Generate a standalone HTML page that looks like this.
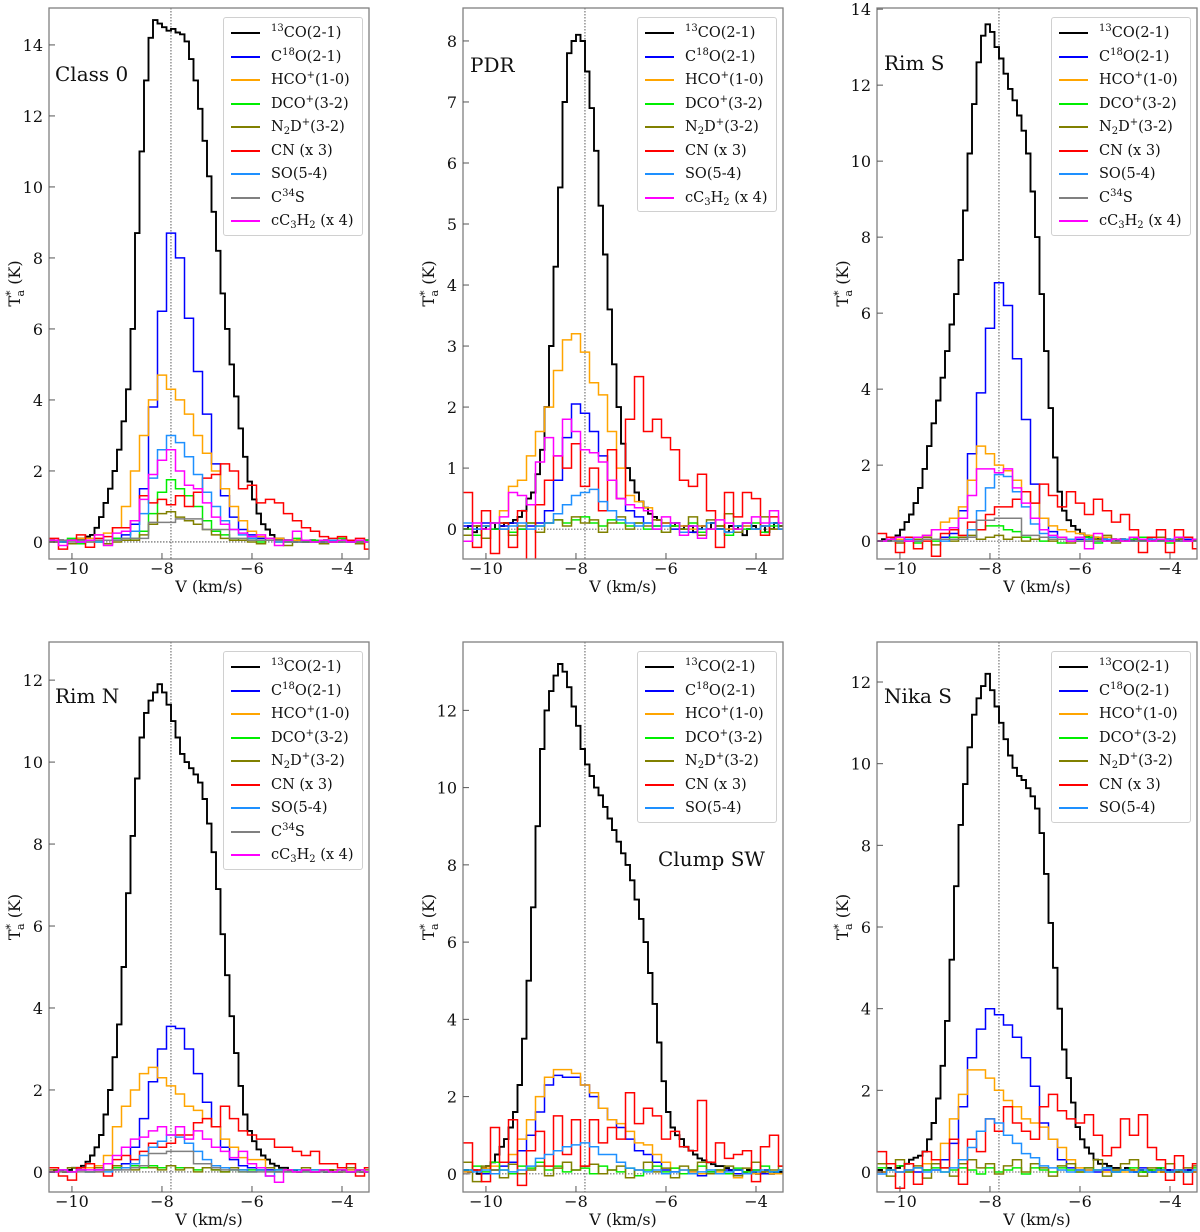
<!DOCTYPE html>
<html><head><meta charset="utf-8">
<style>
html,body{margin:0;padding:0;background:#fff;}
#wrap{position:relative;width:1200px;height:1232px;overflow:hidden;font-family:"DejaVu Serif","Liberation Serif",serif;}
svg{position:absolute;left:0;top:0;}
.legend{position:absolute;background:#fff;border:1px solid #d0d0d0;border-radius:3px;box-sizing:border-box;}
.lent{position:absolute;left:0;height:20px;width:100%;}
.lline{position:absolute;left:7px;width:29px;top:9px;height:0;border-top-width:2px;border-top-style:solid;}
.ltxt{position:absolute;left:47px;top:0;font-size:14.5px;line-height:20px;white-space:nowrap;color:#111;}
.ltxt sup{font-size:10px;position:relative;top:-6px;vertical-align:baseline;}
.ltxt sub{font-size:10px;position:relative;top:3px;vertical-align:baseline;}
</style></head>
<body>
<div id="wrap">
<svg id="fig" width="1200" height="1232"></svg>
</div>
<script>
// ---------- data: velocity grids ----------
const V0 = -10.5;
const DV_FINE = 0.1;
const DV_COARSE = 0.2;
const xTicks = [-10, -8, -6, -4];
const xTickLabels = ["\u221210", "\u22128", "\u22126", "\u22124"];
const vSys = -7.8;

// ---------- Class 0 ----------
const c0_co13 = [0.05,0,0.05,0,0.05,0.05,0.1,0.1,0.15,0.2,0.4,0.7,1.1,1.5,2.0,2.6,3.4,4.3,6.0,8.7,11.0,13.0,14.2,14.7,14.6,14.5,14.4,14.45,14.35,14.3,14.1,13.6,13.0,12.2,11.3,10.3,9.3,8.2,7.0,6.0,5.0,4.1,3.2,2.4,1.7,1.2,0.8,0.5,0.35,0.2,0.1,0.1,0.05,0.05,0,0.05,0,0,0.05,0,0,0.05,0,0,0,0.05,0,0,0,0,0.05];
const c0_c18o = [0,0,0.05,0,0.05,0.05,0.05,0.1,0.2,0.5,1.5,3.8,6.5,8.7,8.0,6.3,4.8,3.6,2.2,1.3,0.7,0.35,0.2,0.1,0.05,0.05,0,0.05,0,0.05,0,0,0.05,0,0,0.05];
const c0_hco = [0,0.05,0.05,0.1,0.1,0.2,0.25,0.4,1.0,2.0,3.0,4.0,4.7,4.3,4.0,3.6,3.0,2.5,2.0,1.5,1.0,0.6,0.3,0.15,0.1,0.1,0.05,0.05,0.05,0,0.05,0,0,0.05,0,0];
const c0_dco = [0.05,0,0.1,-0.05,0.05,0,0.05,0.1,0.05,0.1,0.3,0.8,1.4,1.75,1.5,1.3,1.0,0.6,0.3,0.2,0.1,0.05,0.1,0,0.05,0.05,0,0.1,0,0.05,-0.05,0.05,0.1,0.05,0,0.05];
const c0_n2d = [0.05,0,-0.05,0.05,0,0.05,-0.05,0,0.05,0.05,0.2,0.5,0.8,0.85,0.7,0.6,0.5,0.35,0.2,0.1,0.05,0.05,0,-0.05,0.05,0,-0.1,0,0.05,0,-0.05,0.05,0,0.05,-0.05,0];
const c0_cn = [0.1,-0.2,0.05,0.2,-0.15,0.1,0.15,0.4,0.4,0.6,1.3,1.1,1.2,1.05,1.3,1.0,1.4,1.8,1.9,2.2,2.0,1.5,1.6,1.1,1.2,1.1,0.8,0.6,0.4,0.3,0.15,0.1,0.15,0.05,0.1,-0.2];
const c0_so = [0.05,0,0.05,0,0.05,0,0.05,0.05,0.1,0.3,0.8,1.8,2.6,3.0,2.8,2.4,1.9,1.4,1.0,0.6,0.35,0.2,0.1,0.05,0.05,0,0.05,0,0.05,0,0,0.05,0,0,0.05,0];
const c0_c34s = [0,0.05,0,0.05,0,0.05,0.05,0.05,0.1,0.1,0.1,0.55,0.55,0.55,0.65,0.65,0.65,0.35,0.35,0.35,0.1,0.1,0.05,0.05,0.05,0.05,0,0,0,0,0,0,0,0,0,0];
const c0_cc3h2 = [0.05,-0.1,0.05,0,0.05,0.2,-0.1,0.25,0.3,0.6,1.2,1.9,2.3,2.6,2.0,1.6,1.5,1.1,0.7,0.5,0.35,0.25,0.15,0.2,0.1,-0.1,0.05,0.3,0.05,0,0.05,0,0.05,0,0.05,0];

// ---------- PDR ----------
const pdr_co13 = [0,0.05,-0.05,0.05,0,0.05,0.1,0,0.05,0.1,0.1,0.15,0.2,0.3,0.5,0.6,0.9,1.3,2.0,3.0,4.3,5.6,7.0,7.8,8.0,8.1,8.0,7.5,6.9,6.2,5.3,4.5,3.6,2.7,2.0,1.4,1.0,0.8,0.6,0.45,0.35,0.25,0.2,0.15,0.1,0.1,0.05,0.1,0,0.05,0.05,-0.05,0,0.05,0,0.1,0,0,-0.05,0.05,0,0.05,-0.1,0,0.05,0,0.05,-0.05,0,0.1,0.05];
const pdr_c18o = [0.05,0,0.1,0,0.05,0.1,0,0.05,0.1,0.3,0.8,1.5,2.05,1.9,1.6,1.2,0.8,0.5,0.3,0.2,0.1,0.05,0.1,0,0.05,-0.05,0.05,0,0.05,0,-0.05,0.05,0,0.05,0,0.05];
const pdr_hco = [0,0.05,0.05,0.1,0.3,0.7,0.8,1.2,1.6,2.0,2.6,3.1,3.2,2.9,2.4,2.2,1.6,1.0,0.55,0.45,0.35,0.15,0.1,0.05,0.05,0,0.05,0,0.05,0,0,0.05,0,0.05,0,0];
const pdr_dco = [0,-0.1,0.05,0,0.1,-0.05,0,0.1,0.05,0.1,0.15,0.1,0.15,0.2,0.1,0.05,0.15,0.1,0.05,0.1,0,0.05,-0.05,0.05,0,0.1,-0.05,0,0.05,-0.1,0.05,0,0.1,-0.05,0.05,0];
const pdr_n2d = [-0.1,0.05,-0.15,0.1,0,-0.1,0.05,0.1,-0.05,0.1,0.15,0.05,0.2,0.1,0.15,-0.05,0.1,0.2,0,0.1,0.05,0.15,-0.05,0.1,0,0.2,-0.1,0.15,0.05,0.25,-0.05,0.1,0,0.2,0,0.05];
const pdr_cn = [0.6,-0.3,0.3,-0.4,0.1,-0.3,0.3,-0.5,0.4,0.8,1.2,1.0,1.4,0.7,1.0,0.3,1.3,0.5,1.8,2.5,1.6,1.8,1.5,1.3,0.8,0.7,0.9,0.3,-0.3,0.6,0.2,0.6,0.5,-0.1,0.2,0.0];
const pdr_so = [0.1,0,0.05,0.1,0,0.05,0.1,0,0.05,0.1,0.25,0.4,0.55,0.6,0.65,0.45,0.3,0.15,0.1,0.05,0.1,0,0.05,0.1,-0.05,0.05,0,0.1,0,-0.05,0.05,0.1,0,0.05,0.1,0];
const pdr_cc3h2 = [-0.2,0.1,0.0,0.1,0.2,0.6,0.55,0.4,1.1,1.5,1.2,1.8,1.6,1.3,1.25,1.1,0.8,0.5,0.4,0.35,0.3,0.0,0.2,0.1,-0.1,0.05,-0.15,0.0,0.15,0.1,0.0,0.1,0.2,0.1,0.3,0.1];

// ---------- Rim S ----------
const rs_co13 = [0,0.05,0,0.05,0.15,0.3,0.5,0.7,1.0,1.4,1.9,2.5,3.1,3.7,4.3,5.0,5.7,6.5,7.4,8.7,10.2,11.5,12.6,13.3,13.6,13.4,13.0,12.7,12.3,11.9,11.6,11.2,10.8,10.2,9.2,8.0,6.5,5.0,3.5,2.2,1.3,0.8,0.55,0.4,0.3,0.2,0.15,0.1,0.1,0.05,0.05,0,0.05,0,0.05,0,0,0.05,0,0,0.05,0,0,0,0.05,0,0,0.05,0,0,0];
const rs_c18o = [0,0.05,0,0.05,0,0.05,0.05,0.1,0.2,0.8,2.3,3.9,5.6,6.8,6.2,4.8,3.2,1.5,0.6,0.25,0.1,0.05,0.05,0,0.05,0,0.05,0,0,0.05,0,0.05,0,0,0.05,0];
const rs_hco = [0,0.05,0.05,0.1,0.1,0.15,0.3,0.5,0.6,0.9,1.6,2.5,2.3,2.0,1.85,1.6,1.3,1.0,0.6,0.4,0.3,0.25,0.2,0.15,0.1,0.1,0.05,0.05,0.1,0.05,0,0.05,0,0.05,0,0.05];
const rs_dco = [0,0.05,0,0.1,-0.05,0.05,0,0.05,0.1,0.05,0.1,0.3,0.4,0.4,0.3,0.25,0.1,0.05,0,0.05,-0.05,0.05,0,0.1,-0.05,0,0.05,0,0.05,0.1,0,0.05,-0.05,0.05,0,0.05];
const rs_n2d = [0,0.05,-0.05,0,0.05,0.1,-0.1,0.05,0,0.1,0.15,0.05,0.1,0.15,0.05,0.1,0,0.05,0.1,0,0.05,-0.05,0.1,0,0.05,0.15,-0.05,0,0.1,0.05,0,0.1,0,0.05,0.1,0];
const rs_cn = [0.2,0.1,-0.3,0.1,-0.2,0.0,-0.4,0.2,0.3,0.15,0.5,0.3,0.7,0.9,0.9,1.1,1.3,1.0,1.5,1.2,0.9,1.3,1.0,0.7,1.1,0.8,0.5,0.7,0.3,-0.3,0.1,0.3,-0.3,0.3,0.1,-0.2];
const rs_so = [0,0.05,0,0.05,0,0.05,0.05,0,0.05,0.05,0.3,0.8,1.4,1.75,1.7,1.3,0.9,0.45,0.2,0.1,0.05,0.05,0,0.05,0,0.05,0,0.05,0,0,0.05,0,0.05,0,0,0.05];
const rs_c34s = [0,0,0,0,0,0.05,0.05,0.05,0.05,0.05,0.1,0.55,0.55,0.6,0.6,0.6,0.15,0.15,0.1,0.05,0.05,0,0,0,0,0,0,0,0,0,0,0,0,0,0,0];
const rs_cc3h2 = [0,0.05,0.1,0,0.1,0.15,0.3,0.3,0.35,0.6,1.2,1.9,1.9,1.8,1.9,1.4,1.0,0.6,0.3,0.15,0.1,0,0.1,-0.2,0.2,0,0.05,0,0.1,0.05,0,0.05,0,0.1,0,0.05];

// ---------- Rim N ----------
const rn_co13 = [0,0.05,0.05,0,0.05,0.1,0.1,0.15,0.25,0.4,0.6,0.9,1.4,2.0,2.8,3.6,5.0,6.8,8.2,9.6,10.6,11.2,11.5,11.7,11.9,11.7,11.4,11.0,10.6,10.2,10.0,9.85,9.7,9.5,9.1,8.5,7.8,6.9,5.8,4.8,3.8,2.9,2.1,1.4,1.0,0.75,0.55,0.4,0.3,0.2,0.15,0.1,0.1,0.05,0.05,0,0.05,0.05,0,0,0.05,0,0.05,0,0,0.05,0,0,0.05,0,0];
const rn_c18o = [0,0.05,0,0.05,0,0.05,0.05,0.1,0.2,0.6,1.3,2.2,3.0,3.55,3.5,3.0,2.4,1.7,1.1,0.6,0.3,0.15,0.1,0.05,0.05,0,0.05,0,0.05,0,0.05,0,0,0.05,0,0];
const rn_hco = [0,0.05,0,0.05,0.1,0.15,0.4,1.1,1.6,2.0,2.4,2.55,2.3,2.1,1.9,1.6,1.5,1.3,1.1,0.8,0.6,0.35,0.3,0.3,0.1,0.05,0.05,0,0.05,0,0.05,0,0,0.05,0,0];
const rn_dco = [0,0.05,0,0.05,0,0.1,0.05,0.1,0.1,0.15,0.1,0.15,0.1,0.15,0.1,0.1,0.05,0.1,0.05,0,0.05,0,0.05,0.05,0,0.05,0,0.05,0,0.05,0.05,0,0.05,0,0.05,0];
const rn_n2d = [0.05,0,0.1,0.05,0,0.1,0.05,0.15,0.1,0.05,0.15,0.1,0.05,0.15,0.05,0.1,0,0.1,0.05,0,0.1,0.05,0,0.05,0.1,0,0.05,0,0.1,0,0.05,0.05,0,0.1,0,0.05];
const rn_cn = [0.1,-0.1,-0.2,0.1,0.2,0.0,-0.1,0.3,0.4,0.3,0.5,0.7,0.6,0.7,0.9,0.9,1.2,1.3,1.1,1.6,1.3,1.0,0.9,0.8,0.8,0.6,0.6,0.5,0.4,0.5,0.2,0.2,0.1,0.2,-0.1,0.1];
const rn_so = [0,0.05,0,0.05,0,0.05,0,0.05,0.1,0.2,0.4,0.6,0.75,0.9,0.85,0.7,0.5,0.3,0.15,0.1,0.05,0.05,0,0.05,-0.1,0.05,0,0.05,0,0.05,0,0,0.05,0,0.05,0];
const rn_c34s = [0,0,0,0,0,0,0.05,0.05,0.05,0.1,0.15,0.45,0.45,0.5,0.5,0.5,0.2,0.2,0.1,0.05,0.05,0,0,0,0,0,0,0,0,0,0,0,0,0,0,0];
const rn_cc3h2 = [0,0.05,0,0.05,0.05,0.05,0.2,0.4,0.6,0.8,0.85,1.0,1.1,0.9,1.1,0.8,1.0,0.8,0.6,0.5,0.35,0.5,0.2,0.1,-0.1,-0.25,0.05,0,0.05,0,0.05,0,0.05,0,0.05,0];

// ---------- Clump SW ----------
const cs_co13 = [0.1,0.05,0.1,0,0.15,0.2,0.3,0.5,0.7,0.9,1.2,1.6,2.3,3.5,5.0,6.9,9.0,11.0,12.0,12.5,12.9,13.2,13.0,12.6,12.1,11.6,11.0,10.6,10.3,10.0,9.8,9.5,9.2,8.9,8.6,8.3,8.0,7.6,7.1,6.6,6.0,5.2,4.4,3.4,2.4,1.6,1.2,1.0,0.9,0.7,0.6,0.5,0.4,0.35,0.3,0.25,0.2,0.2,0.15,0.1,0.1,0.1,0.05,0.1,0.05,0,0.05,0.1,0,0.05,0.05];
const cs_c18o = [0.05,0.1,0.0,0.1,0.2,0.3,0.6,1.0,1.6,2.3,2.55,2.5,2.5,2.3,2.0,1.7,1.4,1.2,0.9,0.6,0.5,0.3,0.1,0.05,0,0.05,-0.05,0.05,0,0.1,0,0.05,0.1,0,0.05,0];
const cs_hco = [0.05,0.1,0.15,0.2,0.3,0.5,0.9,1.4,2.0,2.5,2.7,2.7,2.6,2.3,2.1,1.7,1.4,1.3,1.1,0.8,0.75,0.5,0.3,0.15,0.1,0.05,0,0,0.05,0,-0.1,0.05,0,0.05,0,0];
const cs_dco = [0.1,0.2,0.05,0.3,0.1,0,0.2,0.15,0.3,0.1,0.2,0.05,0.1,0.15,0,0.2,0.1,0.05,0.15,-0.05,0.1,0.2,0.05,0.15,0,0.1,0.2,0.05,0.1,0,0.15,0.05,0.1,0.2,0.05,0.1];
const cs_n2d = [0.3,-0.2,0.2,0.1,-0.1,0.25,0,0.1,0.2,-0.05,0.15,0.3,0.1,0.2,0.25,0,0.1,0.2,-0.1,0.1,0.3,0.05,0.15,-0.1,0.2,0.1,0.3,0,0.1,0.2,-0.05,0.15,0.3,0.05,0.1,0.2];
const cs_cn = [0.8,0.1,-0.2,1.2,0.3,1.4,-0.3,0.6,1.1,0.2,1.5,0.5,1.4,0.2,1.4,0.8,1.2,0.9,2.1,1.3,1.7,1.5,0.9,1.1,0.7,0.6,1.9,0.3,0.8,0.4,0.5,0.6,-0.2,0.7,1.0,0.2];
const cs_so = [0.1,0.05,0.1,0,0.1,0.05,0.1,0.2,0.4,0.5,0.6,0.7,0.75,0.8,0.7,0.5,0.5,0.3,0.15,0.1,0.05,0.1,0,0.05,0.1,0,0.05,0.1,0,0.05,0.1,0,0.05,0.1,0.05,0.1];

// ---------- Nika S ----------
const ns_co13 = [0.05,0,0.1,0.05,0.1,0.15,0.2,0.3,0.35,0.4,0.5,0.8,1.2,1.8,2.6,3.7,5.2,7.0,8.5,9.5,10.4,11.2,11.6,11.9,12.2,11.8,11.4,11.0,10.6,10.2,9.9,9.7,9.6,9.4,9.2,8.9,8.3,7.3,6.1,5.0,4.0,3.0,2.3,1.7,1.1,0.8,0.6,0.45,0.3,0.2,0.2,0.15,0.1,0.1,0.05,0.1,0.05,0,0.05,0,0.05,0,0.1,0,0.05,0,0,0.05,0,0.05,0];
const ns_c18o = [0,0.05,0,0.05,0,0.05,0.05,0.3,0.7,1.6,2.8,3.5,4.0,3.85,3.6,3.3,2.8,2.1,1.2,0.8,0.3,0.1,0.05,0.05,0,0.05,0,0.05,0,0.1,0,0.05,0.05,0,0.05,0];
const ns_hco = [0,0.05,0,0.05,0.1,0.2,0.3,0.7,1.3,1.9,2.5,2.5,2.3,2.0,1.75,1.6,1.3,1.2,1.1,0.8,0.6,0.3,0.1,0.05,0.05,0,0.05,0,0.05,0,0.05,0,0,0.05,0,0];
const ns_dco = [0.1,0.05,0.15,0,0.1,0.05,0.1,0,0.05,0.1,0.05,-0.05,0.1,0,0.05,0.1,-0.05,0.1,0.05,0,0.1,0.05,0,0.1,0.05,0.1,0,0.05,0.1,0,0.05,0.1,0,0.05,0,0.1];
const ns_n2d = [0.2,-0.1,0.3,0,0.15,-0.15,0.2,0.1,-0.1,0.2,0.3,0.1,0.2,-0.05,0.15,0.3,0,0.2,0.1,-0.1,0.15,0.2,0,0.1,0.3,-0.1,0.05,0.2,0.3,-0.1,0.1,0.05,0.2,0,0.1,0.15];
const ns_cn = [0.5,0.2,-0.4,0.2,-0.3,0.5,0.3,0.1,0.8,-0.3,0.8,0.5,1.3,1.0,1.6,1.2,1.0,0.8,1.6,1.9,1.5,1.3,1.2,1.4,0.9,0.4,0.6,1.3,0.9,1.4,0.6,0.3,-0.2,0.4,-0.3,0.2];
const ns_so = [-0.05,0.05,0,0.05,0.1,0,0.05,0,0.1,0.3,0.6,1.0,1.3,1.2,0.9,0.7,0.45,0.35,0.15,0.1,0.05,0,0.05,0,0.05,0.1,0,0.05,0,0.05,0,0.05,0,0.05,0,0.05];

// ---------- styling / layout ----------
const COL = {co13:'#000000', c18o:'#0000ff', hco:'#ffa500', dco:'#00ee00', n2d:'#808000', cn:'#ff0000', so:'#1e90ff', c34s:'#808080', cc3h2:'#ff00ff'};
const LAB = {co13:'<sup>13</sup>CO(2-1)', c18o:'C<sup>18</sup>O(2-1)', hco:'HCO<sup>+</sup>(1-0)', dco:'DCO<sup>+</sup>(3-2)', n2d:'N<sub>2</sub>D<sup>+</sup>(3-2)', cn:'CN (x 3)', so:'SO(5-4)', c34s:'C<sup>34</sup>S', cc3h2:'cC<sub>3</sub>H<sub>2</sub> (x 4)'};
const XMIN = -10.51, XMAX = -3.4;
const PW = 320;

const panels = [
 {id:'class-0', title:'Class 0', left:49, top:8, bottom:559, ymin:-0.48, ymax:15.04, yticks:[0,2,4,6,8,10,12,14], tx:55, ty:81,
  s:{co13:c0_co13,c18o:c0_c18o,hco:c0_hco,dco:c0_dco,n2d:c0_n2d,cn:c0_cn,so:c0_so,c34s:c0_c34s,cc3h2:c0_cc3h2}},
 {id:'pdr', title:'PDR', left:463, top:8, bottom:559, ymin:-0.49, ymax:8.54, yticks:[0,1,2,3,4,5,6,7,8], tx:470, ty:72,
  s:{co13:pdr_co13,c18o:pdr_c18o,hco:pdr_hco,dco:pdr_dco,n2d:pdr_n2d,cn:pdr_cn,so:pdr_so,cc3h2:pdr_cc3h2}},
 {id:'rim-s', title:'Rim S', left:877, top:8, bottom:559, ymin:-0.47, ymax:14.03, yticks:[0,2,4,6,8,10,12,14], tx:884, ty:70,
  s:{co13:rs_co13,c18o:rs_c18o,hco:rs_hco,dco:rs_dco,n2d:rs_n2d,cn:rs_cn,so:rs_so,c34s:rs_c34s,cc3h2:rs_cc3h2}},
 {id:'rim-n', title:'Rim N', left:49, top:642, bottom:1192, ymin:-0.49, ymax:12.93, yticks:[0,2,4,6,8,10,12], tx:55, ty:703,
  s:{co13:rn_co13,c18o:rn_c18o,hco:rn_hco,dco:rn_dco,n2d:rn_n2d,cn:rn_cn,so:rn_so,c34s:rn_c34s,cc3h2:rn_cc3h2}},
 {id:'clump-sw', title:'Clump SW', left:463, top:642, bottom:1192, ymin:-0.47, ymax:13.77, yticks:[0,2,4,6,8,10,12], tx:658, ty:866,
  s:{co13:cs_co13,c18o:cs_c18o,hco:cs_hco,dco:cs_dco,n2d:cs_n2d,cn:cs_cn,so:cs_so}},
 {id:'nika-s', title:'Nika S', left:877, top:642, bottom:1192, ymin:-0.49, ymax:12.98, yticks:[0,2,4,6,8,10,12], tx:884, ty:703,
  s:{co13:ns_co13,c18o:ns_c18o,hco:ns_hco,dco:ns_dco,n2d:ns_n2d,cn:ns_cn,so:ns_so}}
];

const NS = 'http://www.w3.org/2000/svg';
const svg = document.getElementById('fig');
const wrap = document.getElementById('wrap');
function mk(tag, attrs, parent){
  const e = document.createElementNS(NS, tag);
  for (const k in attrs) e.setAttribute(k, attrs[k]);
  parent.appendChild(e);
  return e;
}

panels.forEach(function(p, pi){
  const xs = function(v){ return p.left + (v - XMIN) / (XMAX - XMIN) * PW; };
  const ys = function(t){ return p.bottom - (t - p.ymin) / (p.ymax - p.ymin) * (p.bottom - p.top); };
  const g = mk('g', {}, svg);
  
  

  const cp = mk('clipPath', {id:'clip' + pi}, g);
  mk('rect', {x:p.left, y:p.top, width:PW, height:p.bottom - p.top}, cp);

  const zl = mk('line', {x1:p.left, x2:p.left+PW, y1:ys(0), y2:ys(0), stroke:'#333', 'stroke-width':0.8, 'stroke-dasharray':'1.5,1.5'}, g);
  
  
  const vl = mk('line', {x1:xs(vSys), x2:xs(vSys), y1:p.top, y2:p.bottom, stroke:'#333', 'stroke-width':0.8, 'stroke-dasharray':'1.5,1.5'}, g);
  
  

  const sg = mk('g', {'clip-path':'url(#clip' + pi + ')'}, g);
  Object.keys(p.s).forEach(function(key){
    const vals = p.s[key];
    const dv = vals.length > 50 ? DV_FINE : DV_COARSE;
    let d = 'M' + xs(V0).toFixed(1) + ',' + ys(vals[0]).toFixed(1);
    for (let i = 0; i < vals.length; i++){
      if (i > 0) d += 'V' + ys(vals[i]).toFixed(1);
      d += 'H' + xs(V0 + (i + 1) * dv).toFixed(1);
    }
    const path = mk('path', {d:d, fill:'none', stroke:COL[key], 'stroke-width': key === 'co13' ? 1.9 : 1.5, 'stroke-linejoin':'miter'}, sg);
    
    
  });

  const fr = mk('rect', {x:p.left, y:p.top, width:PW, height:p.bottom - p.top, fill:'none', stroke:'#808080', 'stroke-width':1.3}, g);
  
  

  xTicks.forEach(function(v, i){
    mk('line', {x1:xs(v), x2:xs(v), y1:p.bottom, y2:p.bottom - 6, stroke:'#555', 'stroke-width':1}, g);
    const t = mk('text', {x:xs(v), y:p.bottom + 15, 'text-anchor':'middle', 'font-size':16, 'font-family':'DejaVu Serif, serif', fill:'#111'}, g);
    t.textContent = xTickLabels[i];
    
    
  });
  const xl = mk('text', {x:p.left + PW/2, y:p.bottom + 33, 'text-anchor':'middle', 'font-size':16, 'font-family':'DejaVu Serif, serif', fill:'#111'}, g);
  xl.textContent = 'V (km/s)';
  
  

  p.yticks.forEach(function(t){
    mk('line', {x1:p.left, x2:p.left + 6, y1:ys(t), y2:ys(t), stroke:'#555', 'stroke-width':1}, g);
    const tt = mk('text', {x:p.left - 6, y:ys(t) + 6, 'text-anchor':'end', 'font-size':16, 'font-family':'DejaVu Serif, serif', fill:'#111'}, g);
    tt.textContent = String(t);
    
    
  });
  const cy = (p.top + p.bottom) / 2;
  const yl = mk('text', {x:0, y:0, transform:'translate(' + (p.left - 29) + ',' + cy + ') rotate(-90)', 'text-anchor':'middle', 'font-size':16, 'font-family':'DejaVu Serif, serif', fill:'#111'}, g);
  yl.innerHTML = 'T<tspan dy="-6" font-size="11">*</tspan><tspan dy="10" dx="-6" font-size="11">a</tspan><tspan dy="-4"> (K)</tspan>';
  
  

  const ti = mk('text', {x:p.tx, y:p.ty, 'font-size':20, 'font-family':'DejaVu Serif, serif', fill:'#111'}, g);
  ti.textContent = p.title;
  
  

  const keys = Object.keys(p.s);
  const lg = document.createElement('div');
  lg.className = 'legend';
  
  
  lg.style.left = (p.left + PW - 146) + 'px';
  lg.style.top = (p.top + 9) + 'px';
  lg.style.width = '140px';
  lg.style.height = (keys.length * 23.5 + 7) + 'px';
  keys.forEach(function(key, i){
    const en = document.createElement('div');
    en.className = 'lent';
    en.style.top = (5 + i * 23.5) + 'px';
    
    
    const ln = document.createElement('div');
    ln.className = 'lline';
    ln.style.borderTopColor = COL[key];
    en.appendChild(ln);
    const tx = document.createElement('div');
    tx.className = 'ltxt';
    tx.innerHTML = LAB[key];
    en.appendChild(tx);
    lg.appendChild(en);
  });
  wrap.appendChild(lg);
});
</script>
</body></html>
